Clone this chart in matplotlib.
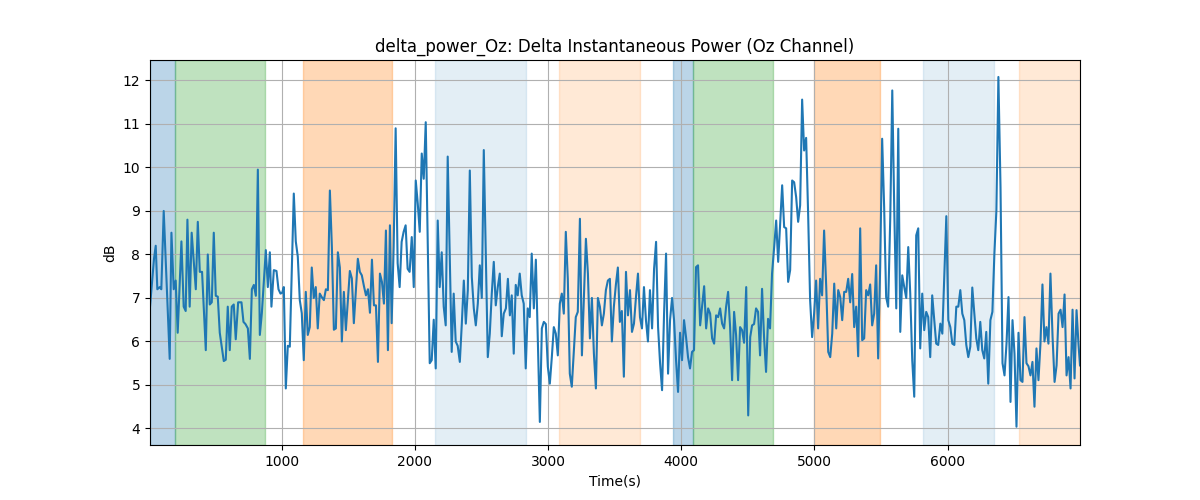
import matplotlib
matplotlib.use("Agg")
import matplotlib.pyplot as plt
import numpy as np

# --- Oz channel delta power (dB) ---
time_s = [
    10, 40, 53, 65, 83, 95, 113, 158, 171, 188, 203, 218, 246, 263, 278, 291, 308, 323, 354, 369,
    384, 401, 429, 444, 459, 474, 489, 504, 519, 534, 564, 579, 594, 609, 624, 639, 654, 672, 697, 712,
    727, 745, 760, 775, 790, 805, 820, 835, 850, 880, 895, 910,
    922, 940, 960, 975, 990, 1003, 1015, 1030, 1045, 1060, 1090, 1105, 1120, 1135, 1150, 1165, 1180, 1195,
    1210, 1225, 1240, 1255, 1270, 1285, 1300, 1316, 1331, 1346, 1361, 1376, 1391, 1406, 1421, 1436, 1451, 1466,
    1481, 1496, 1511, 1526, 1541, 1556, 1571, 1586, 1601, 1617, 1632, 1647, 1662, 1677, 1692, 1707, 1722, 1737,
    1752, 1767, 1782, 1797, 1812,
    1825, 1840, 1855, 1870, 1885, 1900, 1915, 1930, 1945, 1960, 1976, 1991, 2006, 2021, 2036, 2051, 2066, 2081,
    2111, 2126, 2141, 2156, 2171, 2186, 2201, 2216, 2231, 2246, 2276, 2291, 2306, 2321, 2337, 2352, 2367, 2382,
    2397, 2412, 2427, 2442, 2457, 2472, 2487, 2502, 2517, 2547, 2562, 2577, 2592, 2607, 2622, 2637, 2652, 2667,
    2683, 2698, 2713,
    2727, 2742, 2757, 2772, 2787, 2802, 2817, 2832, 2847, 2862, 2877, 2893, 2908, 2938, 2953, 2968, 2983, 2998,
    3013, 3028, 3043, 3058, 3073, 3088, 3103, 3118, 3133, 3148, 3163, 3178, 3193, 3208, 3223, 3239, 3254, 3284,
    3299, 3314, 3329, 3344, 3359, 3374, 3389, 3404, 3419, 3434, 3449, 3464, 3479, 3494, 3509, 3524, 3539, 3554,
    3569, 3585, 3600, 3615,
    3630, 3645, 3660, 3675, 3690, 3705, 3720, 3735, 3750, 3765, 3781, 3796, 3811, 3826, 3841, 3856, 3871, 3886,
    3901, 3916, 3931, 3946, 3961, 3976, 3991, 4006, 4021, 4036, 4051, 4066, 4081, 4096, 4111, 4126, 4142, 4157,
    4172, 4187, 4202, 4217, 4232, 4247, 4262, 4277, 4292, 4307, 4322, 4337, 4352, 4367, 4382, 4397, 4412, 4427,
    4442, 4457, 4472, 4488, 4503, 4518,
    4532, 4547, 4562, 4577, 4592, 4607, 4622, 4637, 4652, 4667, 4682, 4698, 4713, 4728, 4743, 4758, 4773, 4788,
    4803, 4818, 4833, 4848, 4863, 4878, 4893, 4908, 4923, 4938, 4953, 4968, 4983, 4998, 5013, 5028, 5043, 5058,
    5073, 5089, 5104, 5119, 5134, 5149, 5164, 5179, 5194, 5209, 5224, 5239, 5254, 5269, 5284, 5299, 5314, 5329,
    5344, 5359, 5374, 5389,
    5404, 5419, 5434, 5449, 5464, 5479, 5494, 5509, 5524, 5539, 5554, 5570, 5585, 5600, 5615, 5630, 5645, 5660,
    5675, 5690, 5705, 5720, 5735, 5750, 5765, 5780, 5795, 5810, 5825, 5840, 5855, 5870, 5885, 5900, 5915, 5930,
    5946, 5961, 5976, 5991, 6006, 6021, 6036, 6051, 6066, 6081, 6096, 6111, 6126, 6141, 6156, 6171, 6186, 6201,
    6216, 6231, 6246, 6261, 6276, 6291, 6306, 6322,
    6337, 6352, 6367, 6382, 6398, 6413, 6428, 6443, 6458, 6473, 6488, 6503, 6518, 6533, 6548, 6563, 6578, 6593,
    6608, 6623, 6638, 6653, 6668, 6683, 6698, 6713, 6728, 6743, 6758, 6773, 6789, 6804, 6819, 6834, 6849, 6864,
    6879, 6894, 6909, 6924, 6939, 6954, 6969, 6984, 6995,
]

power_db = [
    6.8, 7.9, 8.2, 7.2, 7.25, 7.2, 9.0, 5.6, 8.5, 7.2, 7.4, 6.2, 8.3, 6.8, 6.7, 8.8, 6.8, 8.5, 7.2, 8.75,
    7.6, 7.6, 5.8, 8.0, 6.85, 6.9, 8.5, 7.05, 7.03, 6.2, 5.55, 5.58, 6.8, 5.8, 6.8, 6.85, 6.05, 6.9, 6.9, 6.45,
    6.4, 6.3, 5.6, 7.2, 7.3, 7.05, 9.95, 6.15, 6.65, 8.1, 7.25, 8.05,
    6.8, 7.64, 7.62, 7.2, 7.1, 7.12, 7.25, 4.92, 5.9, 5.88, 9.4, 8.3, 7.95, 6.95, 6.65, 5.57, 7.14, 6.15,
    6.33, 7.7, 7.0, 7.25, 6.3, 7.1, 7.02, 6.95, 7.2, 7.18, 9.47, 8.17, 6.27, 6.3, 8.05, 7.7, 6.0, 7.14,
    6.26, 6.95, 7.62, 7.45, 6.42, 7.18, 7.9, 7.6, 7.52, 7.27, 7.06, 7.2, 6.66, 7.88, 6.83, 6.83, 5.53, 7.56,
    7.37, 6.87, 8.55, 5.8, 8.67,
    6.42, 8.17, 10.9, 7.8, 7.25, 8.29, 8.52, 8.67, 7.67, 7.6, 8.4, 7.25, 9.7, 9.17, 8.52, 10.32, 9.74, 11.04,
    5.5, 5.57, 6.5, 5.38, 8.78, 7.25, 8.05, 6.8, 6.37, 10.25, 5.76, 7.1, 6.0, 5.9, 5.53, 6.41, 7.4, 6.41,
    7.18, 9.93, 7.48, 6.76, 6.37, 6.87, 7.75, 7.0, 10.4, 5.64, 6.18, 7.1, 7.83, 6.83, 7.25, 7.56, 6.12, 6.64,
    6.76, 7.44, 6.6,
    7.06, 5.72, 7.3, 7.06, 7.56, 7.06, 6.87, 5.38, 6.76, 6.56, 8.02, 6.76, 7.88, 4.15, 6.3, 6.45, 6.4, 5.42,
    5.03, 5.64, 6.33, 6.18, 5.68, 6.87, 7.1, 6.64, 8.52, 7.44, 5.26, 4.96, 5.76, 6.56, 6.68, 8.82, 5.68, 8.36,
    7.56, 6.07, 7.0, 5.72, 4.92, 7.0, 6.8, 6.37, 6.64, 7.18, 7.4, 7.44, 6.0, 6.8, 7.3, 7.7, 6.45, 6.7,
    5.19, 7.6, 6.6, 7.18,
    6.22, 6.41, 7.02, 7.56, 6.56, 6.3, 7.25, 6.49, 6.0, 7.18, 6.3, 7.67, 8.29, 6.33, 5.5, 4.88, 6.64, 8.02,
    5.26, 6.49, 7.0, 6.49, 5.57, 4.84, 6.2, 5.57, 6.49, 6.1, 5.64, 5.38, 5.76, 5.8, 7.71, 7.75, 6.37, 6.83,
    7.27, 6.3, 6.76, 6.64, 6.07, 5.95, 6.6, 6.56, 6.76, 6.41, 6.3, 6.8, 7.14, 6.33, 5.11, 6.68, 6.14, 5.11,
    6.33, 6.26, 5.97, 7.25, 4.3, 6.1,
    6.37, 6.4, 6.76, 6.68, 5.68, 7.21, 6.1, 5.3, 6.52, 6.3, 7.56, 8.17, 8.78, 7.83, 8.7, 9.59, 8.63, 8.6,
    7.37, 7.64, 9.7, 9.66, 9.32, 8.75, 9.13, 11.56, 10.39, 10.68, 8.94, 6.95, 6.1, 6.64, 7.4, 6.3, 7.44, 7.06,
    8.55, 7.25, 5.76, 5.64, 6.18, 7.33, 6.3, 7.18, 7.02, 6.49, 7.14, 7.14, 7.44, 6.9, 7.55, 6.33, 6.8, 5.66,
    8.6, 6.03, 6.07, 7.18,
    7.06, 7.31, 6.37, 6.64, 7.75, 5.61, 7.71, 10.66, 9.09, 7.02, 6.8, 8.86, 11.77, 9.01, 6.76, 10.89, 6.22, 7.52,
    7.25, 7.0, 8.17, 7.1, 5.57, 4.73, 8.44, 8.6, 5.84, 7.1, 6.26, 6.68, 6.56, 5.64, 7.06, 6.49, 5.95, 5.92,
    6.41, 6.18, 7.56, 8.88, 6.49, 6.33, 5.95, 5.92, 6.8, 6.8, 7.18, 6.64, 6.49, 5.92, 5.64, 5.88, 7.24, 6.64,
    6.07, 5.8, 6.45, 5.8, 5.61, 6.22, 5.03, 6.49,
    6.68, 8.02, 9.01, 12.08, 9.55, 5.5, 5.22, 5.95, 7.02, 4.61, 6.49, 5.72, 4.04, 6.2, 5.11, 5.07, 6.56, 5.5,
    5.43, 5.22, 5.53, 4.5, 5.84, 5.11, 5.95, 7.31, 6.0, 6.33, 5.95, 7.56, 6.1, 5.07, 5.45, 6.64, 6.73, 6.33,
    7.08, 5.22, 5.64, 4.92, 6.73, 5.15, 6.72, 5.92, 5.45,
]

# --- Shaded segments (start, end in seconds) ---
seg_start = [10, 197, 1160, 2149, 3080, 3938, 4088, 5000, 5815, 6534]
seg_end = [197, 877, 1828, 2837, 3692, 4088, 4691, 5495, 6351, 6995]
seg_kind = ["a", "b", "c", "d", "e", "a", "b", "c", "d", "e"]

kind_style = {
    "a": ("tab:blue", 0.3),
    "b": ("tab:green", 0.3),
    "c": ("tab:orange", 0.3),
    "d": ("tab:blue", 0.12),
    "e": ("tab:orange", 0.17),
}

t = np.array(time_s)
p = np.array(power_db)

fig, ax = plt.subplots(figsize=(12, 5))

for s, e, k in zip(seg_start, seg_end, seg_kind):
    color, alpha = kind_style[k]
    ax.axvspan(s, e, color=color, alpha=alpha)

ax.plot(t, p, color="tab:blue")

ax.set_xlim(t[0], t[-1])
ax.set_ylim(3.62, 12.47)
ax.grid(True)
ax.set_title("delta_power_Oz: Delta Instantaneous Power (Oz Channel)")
ax.set_xlabel("Time(s)")
ax.set_ylabel("dB")

fig.savefig("out.png", dpi=100)
